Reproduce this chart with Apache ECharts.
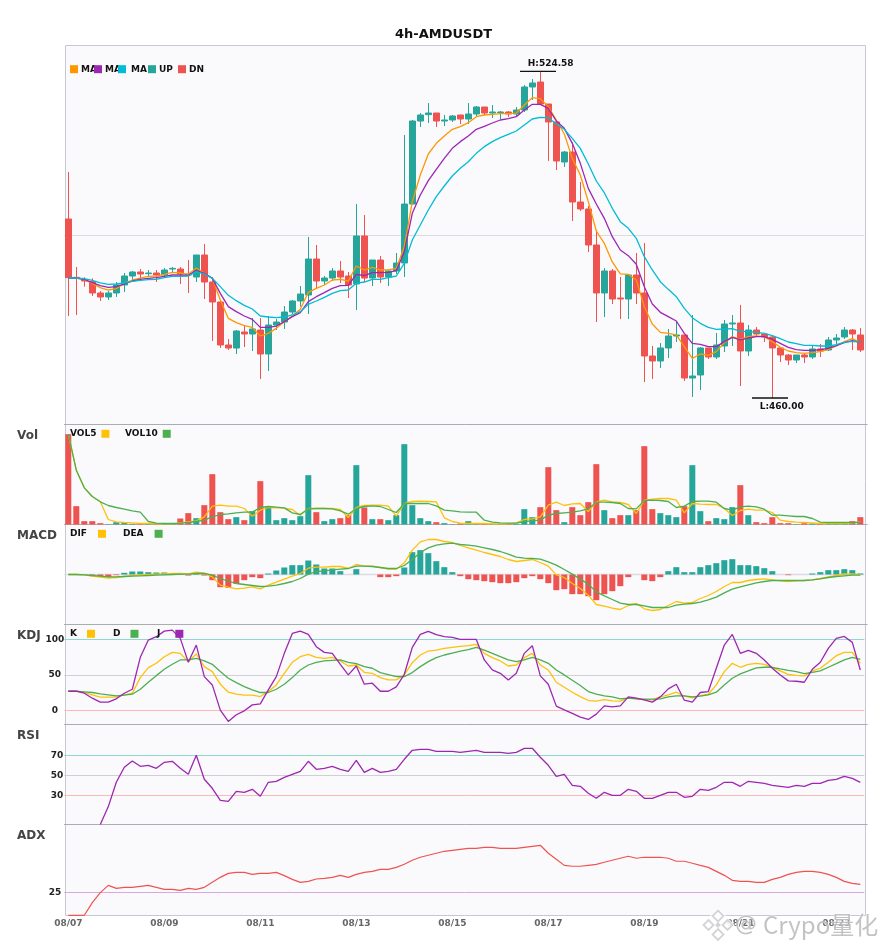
<!DOCTYPE html>
<html><head><meta charset="utf-8">
<style>html,body{margin:0;padding:0;background:#fff}#c{width:885px;height:950px}</style>
<script src="https://cdn.jsdelivr.net/npm/echarts@6/dist/echarts.min.js"></script>
</head><body><div id="c"></div>
<script>
const days=['08/07','08/08','08/09','08/10','08/11','08/12','08/13','08/14','08/15','08/16','08/17','08/18','08/19','08/20','08/21','08/22','08/23'];
const hours=['00:00','04:00','08:00','12:00','16:00','20:00'];
// open, close, low, high
const ohlc=[
[495.39,483.79,476.21,504.68],[483.86,483.66,476.41,485.90],[483.39,483.13,482.01,483.86],[483.00,480.76,480.16,483.66],[480.76,479.97,479.18,481.15],
[479.97,480.76,479.37,481.15],[480.76,482.34,479.97,482.93],[482.34,484.12,480.96,484.71],[484.12,484.91,483.33,485.11],[484.91,484.51,483.53,485.50],
[484.58,484.71,484.12,485.30],[484.71,484.32,482.93,485.30],[484.32,485.30,483.92,485.70],[485.50,485.63,484.91,485.90],[485.50,484.51,482.54,485.90],
[484.51,484.32,480.76,487.28],[483.92,488.27,482.93,488.27],[488.27,482.93,479.57,490.45],[482.93,478.98,471.27,483.92],[478.98,470.48,469.88,479.37],
[470.48,469.88,469.49,471.66],[469.88,473.25,468.70,473.44],[473.05,472.65,470.08,474.43],[472.65,473.64,469.29,475.82],[473.44,468.70,463.76,475.82],
[468.70,474.43,465.34,476.21],[474.43,475.02,473.44,475.62],[475.02,477.00,473.64,478.19],[477.00,479.18,476.61,479.37],[479.18,480.56,478.06,482.14],
[480.36,487.48,476.61,491.83],[487.48,483.13,481.55,490.25],[483.13,483.72,482.34,484.12],[483.72,485.11,483.13,485.70],[485.11,483.92,482.74,487.09],
[484.12,482.34,479.77,484.91],[482.54,492.03,477.40,498.35],[492.03,483.72,482.93,496.18],[483.72,487.28,482.14,487.28],[487.28,483.92,482.74,488.07],
[483.92,485.11,482.14,485.31],[485.11,486.69,484.52,488.67],[486.69,498.35,483.92,512.00],[498.35,514.76,498.35,514.96],[514.76,515.95,513.58,516.34],
[516.02,516.34,514.37,518.32],[516.34,514.76,513.58,516.34],[514.76,514.96,513.77,515.95],[514.96,515.75,514.57,515.95],[515.95,515.16,514.17,515.95],
[515.16,516.15,514.17,518.32],[516.15,517.53,515.75,517.73],[517.53,516.34,515.95,517.53],[516.34,516.54,515.36,517.93],[516.41,516.54,515.16,516.74],
[516.54,516.15,515.55,516.74],[516.15,516.94,515.75,517.53],[516.94,521.49,516.54,521.88],[521.49,522.28,518.91,523.07],[522.47,518.12,517.93,524.58],
[518.12,514.57,506.86,518.12],[514.57,506.86,505.08,514.96],[506.66,508.63,505.67,508.83],[508.63,498.75,494.99,510.61],[498.75,497.37,496.97,502.70],
[497.37,490.25,488.86,497.96],[490.25,480.76,475.03,493.21],[480.76,485.11,476.01,485.70],[485.11,479.57,478.58,485.50],[479.77,479.57,475.62,483.92],
[479.57,484.32,475.62,484.32],[484.32,480.76,478.58,488.67],[480.76,468.30,463.16,490.64],[468.30,467.32,463.76,470.28],[467.32,469.89,465.93,470.87],
[469.89,472.26,467.91,473.64],[472.26,472.46,471.07,475.22],[472.46,463.95,463.36,472.46],[463.95,464.35,460.20,476.41],[464.55,469.89,461.58,470.08],
[469.89,468.11,467.71,469.89],[468.11,470.48,467.71,472.85],[470.28,474.63,469.09,475.42],[474.63,474.83,470.28,476.41],[474.83,469.29,462.37,478.39],
[469.29,473.44,468.30,474.43],[473.44,472.65,472.06,474.04],[472.65,472.06,471.07,472.85],[472.06,469.89,460.00,472.26],[469.89,468.50,467.12,469.89],
[468.50,467.51,466.52,468.70],[467.51,468.50,466.92,468.50],[468.50,468.11,466.92,468.70],[468.11,469.69,467.71,470.48],[469.69,469.29,468.11,470.68],
[469.49,471.47,469.29,472.06],[471.47,471.86,470.68,472.65],[472.06,473.44,471.66,474.04],[473.44,472.65,469.49,473.64],[472.46,469.49,469.09,473.84]];
const ma1=[483.72,483.72,483.39,482.67,481.81,481.35,481.61,482.67,483.33,483.72,484.05,484.12,484.45,484.84,484.71,484.45,485.70,484.65,483.66,479.37,475.75,474.89,474.30,473.97,472.26,472.78,473.77,475.09,476.21,477.53,
480.89,481.68,482.34,483.33,483.46,483.13,486.10,485.31,485.83,485.31,485.31,485.64,489.92,498.82,504.09,508.24,510.35,511.80,513.12,513.64,514.43,515.62,515.95,516.08,516.21,516.21,516.34,517.93,519.38,519.18,517.60,514.96,512.19,507.38,504.09,498.82,493.02,490.58,486.89,484.52,484.45,483.33,478.06,474.63,472.98,472.78,472.46,470.15,467.84,468.70,468.44,469.16,470.94,472.13,471.60,472.13,472.26,472.13,471.14,470.02,469.29,468.96,468.83,468.96,469.16,469.62,470.28,471.14,471.73,470.94];
const ma2=[483.72,483.72,483.46,482.80,482.21,481.88,482.01,482.54,483.13,483.46,483.66,483.79,484.05,484.32,484.32,484.25,485.24,484.65,483.66,480.69,478.06,477.07,476.21,475.55,473.97,473.97,474.23,475.09,476.08,476.87,
479.05,480.03,480.82,481.68,482.21,482.27,484.45,484.19,484.78,484.78,484.84,485.17,488.93,496.51,500.13,502.97,505.21,507.38,509.36,510.68,511.80,513.12,513.71,514.37,514.96,515.22,515.62,516.94,518.06,518.06,517.27,514.76,513.31,510.35,506.39,501.45,498.35,495.52,491.90,489.26,488.14,486.43,482.01,478.58,476.94,476.08,475.22,472.78,470.81,470.61,470.15,470.15,471.14,471.99,471.47,471.86,472.13,472.13,471.60,470.81,470.02,469.56,469.42,469.42,469.56,469.82,470.35,470.94,471.34,471.01];
const ma3=[483.72,483.72,483.59,483.26,482.74,482.47,482.54,482.74,483.06,483.26,483.39,483.46,483.79,484.05,484.05,484.12,484.98,484.51,483.66,482.01,480.30,479.24,478.32,477.59,476.21,476.01,475.88,476.01,476.41,477.07,
478.52,479.18,479.90,480.69,481.22,481.35,482.67,482.93,483.46,483.46,483.79,484.12,486.62,491.24,494.20,497.17,499.80,501.91,503.89,505.41,506.72,508.37,509.69,510.68,511.47,512.13,512.79,513.97,515.16,515.49,515.42,514.17,513.12,511.34,509.36,506.26,502.90,500.59,497.50,494.86,493.54,491.57,487.94,485.31,483.00,481.48,480.03,477.73,475.88,474.76,473.97,473.58,473.64,473.71,473.18,473.11,472.98,472.78,472.32,471.73,471.07,470.74,470.41,470.41,470.28,470.28,470.54,471.01,471.20,471.07];
const volume=[271,55,10,10,4,1,7,7,2,3,2,3,2,2,18,34,19,58,151,37,16,22,13,40,130,52,13,19,13,25,
148,37,10,16,19,28,178,51,16,16,13,28,241,58,19,10,7,4,1,3,10,2,3,2,1,3,2,46,22,52,172,43,7,52,28,67,181,
43,19,28,28,43,235,46,34,28,22,55,178,40,10,19,16,52,118,28,7,4,22,4,4,1,4,3,2,2,2,3,10,22];
const vol5=[271,163,110,84,68,15,8,6,5,3,3,2,2,2,5,8,11,23,55,58,55,55,48,25,43,51,50,49,45,28,
48,48,48,48,45,21,51,57,58,58,55,25,63,69,70,69,68,20,9,4,3,3,3,2,2,2,5,15,17,23,58,67,57,62,63,39,68,
73,68,66,60,33,73,76,78,78,73,35,63,61,60,60,48,27,42,46,43,43,36,13,9,7,6,5,3,3,3,3,5,8];
const vol10=[271,163,110,84,68,57,51,46,41,37,9,4,3,3,4,6,9,13,23,30,32,35,37,37,51,54,52,50,35,30,
47,48,48,47,41,31,48,54,56,54,45,36,63,63,63,63,56,43,41,38,37,37,13,7,5,4,4,9,11,13,28,33,35,37,41,47,
67,67,66,63,48,47,72,73,72,69,51,55,69,70,70,67,48,43,53,55,53,46,28,28,26,24,24,18,7,6,6,6,6,6];
const hist=[0,0,-1,-5,-6,-8,-2,5,9,9,7,6,6,3,2,-3,5,-3,-17,-38,-40,-28,-17,-8,-11,3,12,21,28,28,
42,30,18,18,10,0,16,0,0,-8,-8,-5,21,67,73,64,40,22,7,-5,-14,-17,-20,-23,-26,-26,-23,-11,-5,-14,-26,-47,-44,-59,-59,-65,-77,
-59,-50,-35,-8,0,-17,-20,-8,10,22,7,7,22,28,34,43,46,28,28,25,19,10,0,-2,0,0,3,7,13,13,16,13,3];
const dif=[0,0,-1,-5,-8,-11,-9,-6,-3,-1,0,1,2,3,3,2,7,4,-7,-32,-38,-43,-41,-37,-43,-32,-23,-14,-5,3,
19,22,22,24,24,18,30,25,25,21,16,16,35,73,98,105,105,99,96,87,80,73,66,60,54,45,39,42,45,36,25,-1,-9,-27,-42,-62,-90,
-95,-101,-105,-93,-87,-103,-108,-105,-93,-81,-86,-84,-72,-63,-51,-36,-24,-24,-18,-15,-13,-16,-19,-21,-19,-18,-16,-12,-7,-3,2,2,-1];
const dea=[0,0,-1,-3,-5,-7,-7,-6,-5,-4,-3,-2,-1,0,1,1,3,3,-2,-12,-20,-27,-30,-33,-36,-35,-32,-27,-21,-12,
1,9,11,14,16,18,25,25,24,21,18,18,27,45,66,80,88,92,94,90,88,85,80,75,69,61,52,49,48,46,38,28,15,1,-14,-29,-52,
-64,-75,-86,-90,-90,-94,-99,-99,-99,-92,-89,-87,-83,-76,-68,-55,-44,-37,-31,-25,-21,-18,-18,-18,-18,-18,-16,-13,-9,-6,-4,-2,-2];
const kLine=[26.9,26.9,25.1,21.8,18.5,18.5,18.5,21.8,24.1,46.1,60.2,66.3,75.6,81.7,80.3,68.6,79.4,61.6,54.6,36.8,25.5,22.7,21.3,21.3,19.4,26.5,35.8,52.2,67.7,75.6,
78.9,74.7,73.3,74.7,69.6,62.5,63.9,53.6,52.2,46.1,42.9,42.9,49.9,67.2,78.0,83.6,85.0,87.4,88.8,90.2,91.1,93.0,80.3,74.2,69.6,62.5,63.9,74.2,80.3,63.9,56.9,39.6,32.6,25.5,19.4,13.8,12.9,
15.2,13.3,12.9,17.6,16.6,14.8,14.8,19.0,21.8,25.5,19.9,17.6,20.8,22.7,35.8,54.6,66.3,60.7,64.9,66.3,64.9,60.2,55.5,50.8,49.4,48.5,55.5,59.3,67.7,77.1,81.7,81.7,66.3];
const dLine=[26.9,26.9,26.0,25.1,23.2,21.8,20.4,21.3,22.7,29.7,39.6,48.9,57.8,64.9,71.0,71.0,73.3,69.6,64.9,54.6,45.2,39.1,33.5,28.8,25.1,25.1,29.7,36.8,46.1,56.9,
63.9,67.7,69.6,70.5,71.0,67.7,65.8,61.6,59.3,53.2,50.4,47.5,47.5,53.2,61.6,68.6,74.2,78.0,80.8,83.6,85.5,88.8,85.0,80.3,75.6,71.0,68.6,71.0,74.7,71.0,66.3,56.9,49.9,42.4,34.9,26.5,22.7,
20.4,19.0,16.2,17.1,16.2,15.7,15.7,16.2,19.0,20.4,20.4,19.0,19.9,21.8,25.5,35.8,45.2,51.3,55.5,59.7,60.7,60.7,58.3,56.4,54.6,51.8,53.6,55.5,60.7,65.8,71.0,74.7,71.9];
const jLine=[26.9,26.9,24.1,17.1,11.5,11.5,16.2,24.1,29.7,74.7,99.1,103.8,111.7,113.1,101.4,67.7,92.0,47.5,35.8,0.2,-15.7,-6.3,-0.7,7.7,9.1,28.8,47.5,80.3,108.4,111.7,
107.0,89.7,81.7,80.3,64.9,49.9,62.5,36.8,38.2,26.9,26.9,33.0,50.8,88.8,107.0,111.2,106.6,103.8,102.8,100.0,100.0,100.0,71.0,56.9,52.2,42.9,52.2,80.3,91.1,48.5,36.8,5.9,0.7,-4.4,-9.6,-12.9,-5.4,
6.3,4.9,6.3,19.0,17.1,14.8,11.5,19.0,30.2,36.8,14.3,11.5,25.1,26.5,59.3,92.0,107.0,80.3,84.5,80.3,71.0,59.3,49.9,41.5,41.0,39.6,57.8,67.7,87.4,101.4,104.2,95.8,56.9];
const rsi=[null,null,null,null,0.8,18.7,43,58,64.3,59,60,57,63,64,57,51,70,46,37,25,24,34,33,36,29,43,44,48,51,54,
64,56,57,59,56,54,65,53,57,53,54,56,66,75,76,76,74,74,74,73,74,75,73,73,73,72,73,77,77,68,60,49,51,40,39,32,27,
33,30,30,36,34,27,27,30,33,33,28,29,36,35,38,43,43,39,44,43,42,40,39,38,40,39,42,42,45,46,49,47,43];
const adx=[0,0,0,13.9,25,33,29.7,30.8,30.8,31.9,33,30.8,28.6,28.6,27.5,29.7,28.6,30.8,36.3,41.8,46.2,47.3,47.3,45.1,46.2,46.2,47.3,43.7,39.6,36.3,
37.4,40,40.7,41.8,44,41.8,45.1,47.3,48.4,50.6,50.6,52.8,56.2,60.6,63.9,66.1,68.3,70.5,71.6,72.7,73.8,73.8,74.9,74.9,73.8,73.8,73.8,74.9,76,77.1,68.3,61.7,55,54,54,55,56,
58.4,60.6,62.8,65,62.8,63.9,63.9,63.9,62.8,59.5,59.5,57.3,55,52.8,48.4,44,38.5,37.4,37.4,36.3,36.3,39.6,41.8,45.1,47.3,48.4,48.4,47.3,45.1,41.8,37.4,35.2,34.1];
const highMark=[59,524.58], lowMark=[88,460.00];
const midPrice=492.2;

const categories=[];
for(const d of days){for(const h of hours){if(categories.length<ohlc.length)categories.push(d+' '+h);}}
const UP='#26a69a',DN='#ef5350';
const FONT='DejaVu Sans';
const panels=[[45.3,379.2],[424.5,100],[524.5,100],[624.5,100],[724.5,100],[824.5,90.8]];
const GL=64.3,GW=800;
const grids=panels.map(p=>({left:GL,width:GW,top:p[0],height:p[1],show:false}));
const xAxes=panels.map((p,i)=>({type:'category',gridIndex:i,data:categories,boundaryGap:true,
  axisLine:{show:false},axisTick:{show:false},splitLine:{show:false},
  axisLabel:i===5?{show:true,interval:11,margin:3.5,fontFamily:FONT,fontSize:9,fontWeight:'bold',color:'#666',formatter:v=>v.slice(0,5)}:{show:false}}));
const noAxis={axisLine:{show:false},axisTick:{show:false},splitLine:{show:false}};
const yLabel={fontFamily:FONT,fontSize:9,fontWeight:'bold',color:'#222',align:'center'};
const yAxes=[
 {gridIndex:0,type:'value',min:454.76,max:529.73,...noAxis,axisLabel:{show:false}},
 {gridIndex:1,type:'value',min:0,max:300,...noAxis,axisLabel:{show:false}},
 {gridIndex:2,type:'value',min:-150,max:150,...noAxis,axisLabel:{show:false}},
 {gridIndex:3,type:'value',min:-20,max:121,...noAxis,axisLabel:{...yLabel,margin:9.5,customValues:[0,50,100]}},
 {gridIndex:4,type:'value',min:0.8,max:100.8,...noAxis,axisLabel:{...yLabel,margin:7.3,customValues:[30,50,70]}},
 {gridIndex:5,type:'value',min:0,max:100,...noAxis,axisLabel:{...yLabel,margin:9.3,customValues:[25]}}
];
const hline=(v,c,w)=>({silent:true,symbol:'none',animation:false,z:1,label:{show:false},lineStyle:{color:c,width:w||1,type:'solid'},data:[{yAxis:v}]});
const hlines=(arr)=>({silent:true,symbol:'none',animation:false,z:1,label:{show:false},
  data:arr.map(a=>({yAxis:a[0],lineStyle:{color:a[1],width:1,type:'solid'}}))});
const line=(name,data,color,g,extra)=>Object.assign({name,type:'line',data,xAxisIndex:g,yAxisIndex:g,symbol:'none',showSymbol:false,smooth:false,
  color,itemStyle:{color},lineStyle:{color,width:1.3},connectNulls:false,animation:false,z:3},extra||{});
const barColored=(vals,colorOf)=>vals.map((v,i)=>({value:v,itemStyle:{color:colorOf(v,i)}}));
const markStyle=(label,coord,pos,offs)=>({coord,symbol:'rect',symbolSize:[36,1.4],symbolOffset:[-2.3,0],itemStyle:{color:'#111'},
  label:{show:true,formatter:label,position:pos,distance:2,offset:offs,fontFamily:FONT,fontSize:9,fontWeight:'bold',color:'#111'}});
const series=[
 {name:'K线',type:'candlestick',data:ohlc,xAxisIndex:0,yAxisIndex:0,barWidth:6,animation:false,z:2,
  itemStyle:{color:UP,color0:DN,borderColor:UP,borderColor0:DN,borderWidth:1},
  markLine:hline(midPrice,'#dcdce2',1),
  markPoint:{silent:true,animation:false,data:[
    markStyle('H:524.58',highMark,'top',[12.7,0]),
    markStyle('L:460.00',lowMark,'bottom',[11.7,1])]}},
 line('MA1',ma1,'#ff9800',0),line('MA2',ma2,'#9c27b0',0),line('MA3',ma3,'#00bcd4',0),
 {name:'UP',type:'bar',data:[],xAxisIndex:0,yAxisIndex:0,color:UP,itemStyle:{color:UP}},
 {name:'DN',type:'bar',data:[],xAxisIndex:0,yAxisIndex:0,color:DN,itemStyle:{color:DN}},
 {name:'Vol',type:'bar',xAxisIndex:1,yAxisIndex:1,barWidth:6,animation:false,z:2,
  data:barColored(volume,(v,i)=>ohlc[i][1]>=ohlc[i][0]?UP:DN)},
 line('VOL5',vol5,'#ffc107',1),line('VOL10',vol10,'#4caf50',1),
 {name:'Hist',type:'bar',xAxisIndex:2,yAxisIndex:2,barWidth:6,animation:false,z:2,
  data:barColored(hist,v=>v>=0?UP:DN),markLine:hline(0,'#dcdce2',1.4)},
 line('DIF',dif,'#ffc107',2),line('DEA',dea,'#4caf50',2),
 line('K',kLine,'#ffc107',3,{markLine:hlines([[100,'#8fd8cf'],[50,'#cfcfd4'],[0,'#ffb8b8']])}),
 line('D',dLine,'#4caf50',3),line('J',jLine,'#9c27b0',3),
 line('RSI',rsi,'#9c27b0',4,{markLine:hlines([[70,'#8fd8cf'],[50,'#cfcfd4'],[30,'#ffb8b8']])}),
 line('ADX',adx,'#ef5350',5,{clip:false,lineStyle:{color:'#ef5350',width:1.2},markLine:hlines([[25,'#d8a8de']])})
];
const legItem=(name,left,top,align,fmt,pad)=>({data:[name],left,top,align,orient:'horizontal',icon:'rect',itemWidth:8,itemHeight:8,itemGap:0,padding:0,
  selectedMode:false,formatter:fmt||(n=>n),
  textStyle:{fontFamily:FONT,fontSize:9,fontWeight:'bold',color:'#111',padding:pad||0}});
const maFmt=()=>'MA';
const legends=[
 legItem('MA1',70,64.7,'left',maFmt,[0,0,0,-2]),legItem('MA2',94,64.7,'left',maFmt,[0,0,0,-2]),legItem('MA3',118,64.7,'left',maFmt,[0,0,0,0]),
 legItem('UP',148,64.7,'left',null,[0,0,0,-2]),legItem('DN',178,64.7,'left',null,[0,0,0,-2]),
 legItem('VOL5',70,429.3,'right'),legItem('VOL10',125,429.3,'right'),
 legItem('DIF',70,529.3,'right',null,[0,6,0,0]),legItem('DEA',123,529.3,'right',null,[0,6,0,0]),
 legItem('K',70,629.3,'right',null,[0,5,0,0]),legItem('D',113,629.3,'right',null,[0,5,0,0]),legItem('J',157,629.3,'right',null,[0,10,0,0])
];
const lab=(text,top)=>({text,left:17,top,textStyle:{fontFamily:FONT,fontSize:12,fontWeight:'bold',color:'#444'},padding:0});
const titles=[{text:'4h-AMDUSDT',left:395,top:28,padding:0,textStyle:{fontFamily:FONT,fontSize:13,fontWeight:'bold',color:'#111'}},
 lab('Vol',429.5),lab('MACD',529.5),lab('KDJ',629.5),lab('RSI',729.5),lab('ADX',829.5)];
const frame=[];
frame.push({type:'rect',shape:{x:65.5,y:45.5,width:800,height:870},z:-10,silent:true,style:{fill:'#fafafd',stroke:'#c8c8d2',lineWidth:1}});
[424.5,524.5,624.5,724.5,824.5].forEach(y=>frame.push({type:'line',shape:{x1:64,y1:y,x2:867.5,y2:y},z:1,silent:true,style:{stroke:'#ababb2',lineWidth:1}}));
// watermark
const diamond=(cx,cy,r,style)=>({type:'polygon',shape:{points:[[cx,cy-r],[cx+r,cy],[cx,cy+r],[cx-r,cy]]},z:50,silent:true,style});
frame.push(diamond(718,925,17,{fill:'rgba(255,255,255,0.85)'}));
const wmS={stroke:'#d4d4d6',lineWidth:1.8,fill:'rgba(255,255,255,0.4)'};
[[718,916,5.5],[708.5,925,5],[727.5,925,5],[718,934.5,5.5]].forEach(d=>frame.push(diamond(d[0],d[1],d[2],wmS)));
frame.push(diamond(718,925,3,{fill:'#d4d4d6'}));
const wmText=(text,x,font)=>({type:'text',x,y:925,z:50,silent:true,style:{text,font,fill:'rgba(185,185,188,0.85)',stroke:'rgba(255,255,255,0.45)',lineWidth:1.5,textVerticalAlign:'middle'}});
frame.push(wmText('@',735,'22px "DejaVu Sans"'));
frame.push(wmText('Crypo量化',763,'24px "Noto Sans CJK SC","Noto Sans"'));
const chart=echarts.init(document.getElementById('c'),null,{renderer:'canvas'});
chart.setOption({animation:false,backgroundColor:'#fff',textStyle:{fontFamily:FONT},title:titles,legend:legends,grid:grids,xAxis:xAxes,yAxis:yAxes,series,graphic:{elements:frame}});
</script></body></html>
